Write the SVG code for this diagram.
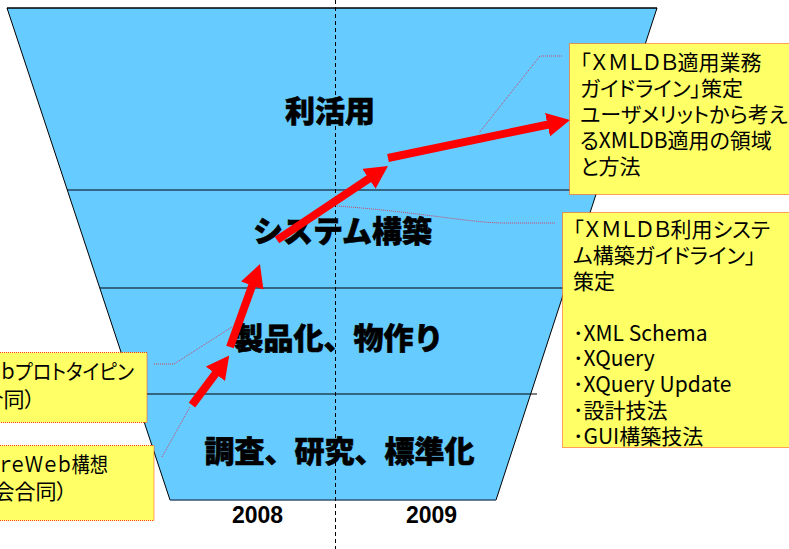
<svg xmlns="http://www.w3.org/2000/svg" width="789" height="549" viewBox="0 0 789 549">
<style>
.lbl{font-family:"Noto Sans CJK JP","Noto Sans CJK SC",sans-serif;font-weight:900;font-size:30px;fill:#000;stroke:#000;stroke-width:0.6;text-anchor:middle}
.yr{font-family:"Liberation Sans",Arial,sans-serif;font-weight:bold;font-size:23px;fill:#000;text-anchor:middle}
.bx{fill:#FFFF66;stroke:#FF4000;stroke-width:1;stroke-dasharray:1 1}
.bt{font-family:"Noto Sans CJK JP","Noto Sans CJK SC",sans-serif;font-size:21px;fill:#000;font-feature-settings:"palt"}
.arr{stroke:#FF0000;stroke-width:8;fill:none;marker-end:url(#ah)}
.ld{stroke:#CC4466;stroke-width:1;fill:none;stroke-dasharray:1 1}
.edge{stroke:#000;stroke-width:1;fill:none}
</style>
<defs>
<marker id="ah" markerUnits="userSpaceOnUse" viewBox="0 -12 23 24" refX="1" refY="0" markerWidth="23" markerHeight="24" orient="auto">
<path d="M0,-12 L23,0 L0,12 z" fill="#FF0000"/>
</marker>
</defs>
<rect width="789" height="549" fill="#FFFFFF"/>
<g id="funnel">
<polygon points="7,8 657,8 496,500 170,500" fill="#66CCFF"/>
<line x1="67" y1="190" x2="598" y2="190" stroke="#336688" stroke-width="2"/>
<line x1="100" y1="288" x2="566" y2="288" class="edge"/>
<line x1="135" y1="394" x2="537" y2="394" class="edge"/>
<line x1="7" y1="8" x2="657" y2="8" stroke="#000" stroke-width="1.5"/>
<line x1="7" y1="8" x2="170" y2="500" class="edge"/>
<line x1="657" y1="8" x2="496" y2="500" class="edge"/>
<line x1="170" y1="500" x2="496" y2="500" stroke="#335577" stroke-width="1.5"/>
<line x1="335.5" y1="0" x2="335.5" y2="549" stroke="#000" stroke-width="1" stroke-dasharray="4 3"/>
</g>
<g id="stages">
<text class="lbl" x="330" y="122">利活用</text>
<text class="lbl" x="342.5" y="242">システム構築</text>
<text class="lbl" x="338.5" y="349">製品化、物作り</text>
<text class="lbl" x="339.5" y="462">調査、研究、標準化</text>
</g>
<g id="years">
<text class="yr" x="257.5" y="523">2008</text>
<text class="yr" x="431.5" y="523">2009</text>
</g>
<g id="connectors">
<line class="arr" x1="192" y1="405" x2="216" y2="373"/>
<line class="arr" x1="230" y1="347" x2="252.5" y2="284.7"/>
<line class="arr" x1="277" y1="240" x2="369.7" y2="178.2"/>
<line class="arr" x1="388" y1="158" x2="548.5" y2="124.5"/>
<path class="ld" d="M562,56 L540,56 L479,133"/>
<path class="ld" d="M337,206 C420,212 470,223 505,223 L555,223"/>
<path class="ld" d="M154,364 L174,364 L232,327"/>
<path class="ld" d="M162,457 L190,407"/>
</g>
<g id="box-guideline-business">
<rect class="bx" x="569.5" y="43.5" width="230" height="151"/>
<text class="bt" x="580" y="70">「ＸＭＬＤＢ適用業務</text>
<text class="bt" x="580" y="96">ガイドライン」策定</text>
<text class="bt" x="580" y="122">ユーザメリットから考え</text>
<text class="bt" x="580" y="148">るXMLDB適用の領域</text>
<text class="bt" x="580" y="174">と方法</text>
</g>
<g id="box-guideline-system">
<rect class="bx" x="562.5" y="212.5" width="237" height="235"/>
<text class="bt" x="573" y="237">「ＸＭＬＤＢ利用システ</text>
<text class="bt" x="573" y="263">ム構築ガイドライン」</text>
<text class="bt" x="573" y="289">策定</text>
<text class="bt" x="573" y="341">･XML Schema</text>
<text class="bt" x="573" y="366">･XQuery</text>
<text class="bt" x="573" y="392">･XQuery Update</text>
<text class="bt" x="573" y="418">･設計技法</text>
<text class="bt" x="573" y="444">･GUI構築技法</text>
</g>
<g id="box-prototyping">
<rect class="bx" x="-10" y="352.5" width="157" height="70"/>
<text class="bt" x="0" y="379" textLength="134" lengthAdjust="spacingAndGlyphs">ｂプロトタイピン</text>
<text class="bt" x="35" y="407" text-anchor="end">合同）</text>
</g>
<g id="box-vision">
<rect class="bx" x="-10" y="445.5" width="164" height="75"/>
<text class="bt" x="0" y="472" textLength="108" lengthAdjust="spacingAndGlyphs">ｒｅＷｅｂ構想</text>
<text class="bt" x="67" y="499" text-anchor="end">会合同）</text>
</g>
</svg>
